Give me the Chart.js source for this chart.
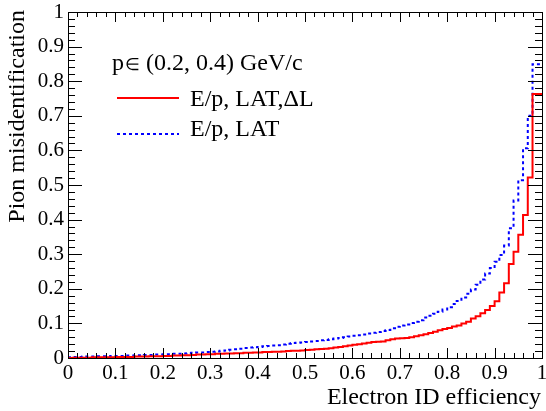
<!DOCTYPE html>
<html>
<head>
<meta charset="utf-8">
<script src="https://cdn.jsdelivr.net/npm/chart.js@4"></script>
<style>
  body { margin: 0; background: #fff; }
  canvas { display: block; }
</style>
</head>
<body>
<canvas id="chart-misid" width="546" height="411"></canvas>
<script>
// 100 bins of width 0.01 in electron efficiency
const nBins = 100;
const xMin = 0, xMax = 1;
const xTickLabels = ['0', '0.1', '0.2', '0.3', '0.4', '0.5', '0.6', '0.7', '0.8', '0.9', '1'];
const yTickLabels = ['0', '0.1', '0.2', '0.3', '0.4', '0.5', '0.6', '0.7', '0.8', '0.9', '1'];
const momentumLabel = ['p', '\u2208', ' (0.2, 0.4) GeV/c'];
const seriesNames = ['E/p, LAT,\u0394L', 'E/p, LAT'];

// pion misidentification per efficiency bin, E/p + LAT + dL
const misidLatDL = [
    0.000, 0.000, 0.001, 0.001, 0.001, 0.001, 0.002, 0.002, 0.002, 0.002,
    0.002, 0.003, 0.003, 0.003, 0.003, 0.004, 0.004, 0.004, 0.005, 0.005,
    0.005, 0.006, 0.006, 0.007, 0.007, 0.008, 0.008, 0.009, 0.010, 0.010,
    0.011, 0.011, 0.012, 0.012, 0.013, 0.013, 0.014, 0.014, 0.015, 0.015,
    0.016, 0.016, 0.017, 0.017, 0.018, 0.018, 0.019, 0.020, 0.021, 0.021,
    0.022, 0.023, 0.024, 0.025, 0.026, 0.027, 0.028, 0.030, 0.032, 0.034,
    0.036, 0.038, 0.040, 0.042, 0.044, 0.046, 0.047, 0.048, 0.051, 0.054,
    0.056, 0.057, 0.058, 0.060, 0.063, 0.066, 0.069, 0.072, 0.076, 0.080,
    0.084, 0.087, 0.091, 0.094, 0.100, 0.105, 0.114, 0.121, 0.129, 0.139,
    0.150, 0.164, 0.189, 0.216, 0.272, 0.307, 0.356, 0.413, 0.522, 0.763,
];

// E/p + LAT only
const misidLat = [
    0.002, 0.002, 0.003, 0.003, 0.004, 0.004, 0.004, 0.005, 0.005, 0.005,
    0.006, 0.006, 0.006, 0.007, 0.007, 0.008, 0.008, 0.009, 0.009, 0.010,
    0.010, 0.011, 0.011, 0.012, 0.012, 0.013, 0.014, 0.015, 0.016, 0.016,
    0.017, 0.018, 0.019, 0.021, 0.022, 0.024, 0.025, 0.027, 0.029, 0.030,
    0.031, 0.032, 0.034, 0.035, 0.036, 0.037, 0.039, 0.041, 0.043, 0.044,
    0.045, 0.046, 0.048, 0.049, 0.051, 0.052, 0.054, 0.056, 0.058, 0.060,
    0.062, 0.064, 0.066, 0.068, 0.071, 0.073, 0.075, 0.078, 0.081, 0.086,
    0.090, 0.094, 0.097, 0.101, 0.105, 0.109, 0.117, 0.122, 0.128, 0.134,
    0.140, 0.147, 0.156, 0.165, 0.175, 0.186, 0.198, 0.212, 0.227, 0.244,
    0.260, 0.278, 0.298, 0.325, 0.375, 0.455, 0.514, 0.606, 0.700, 0.849,
];

const FONT = "'Liberation Serif', 'Times New Roman', serif";
Chart.defaults.font.family = FONT;
Chart.defaults.color = '#000';

function toSteps(values) {
    const w = (xMax - xMin) / nBins;
    const pts = values.map((v, i) => ({ x: xMin + i * w, y: v }));
    pts.push({ x: xMax, y: values[values.length - 1] });
    return pts;
}

// ROOT-like frame: inside ticks on all four sides, legend and axis titles
const rootFrame = {
    id: 'rootFrame',
    afterDraw(chart) {
        const { ctx, chartArea: a, scales: { x, y } } = chart;
        ctx.save();
        ctx.strokeStyle = '#000';
        ctx.lineWidth = 1;
        ctx.strokeRect(Math.round(a.left) + 0.5, Math.round(a.top) + 0.5,
            Math.round(a.right - a.left), Math.round(a.bottom - a.top));
        ctx.beginPath();
        for (let k = 0; k <= 50; k++) {
            const major = k % 5 === 0;
            const px = Math.round(x.getPixelForValue(k * 0.02)) + 0.5;
            const lx = major ? 10 : 5;
            ctx.moveTo(px, a.bottom); ctx.lineTo(px, a.bottom - lx);
            ctx.moveTo(px, a.top); ctx.lineTo(px, a.top + lx);
            const py = Math.round(y.getPixelForValue(k * 0.02)) + 0.5;
            const ly = major ? 14 : 7;
            ctx.moveTo(a.left, py); ctx.lineTo(a.left + ly, py);
            ctx.moveTo(a.right, py); ctx.lineTo(a.right - ly, py);
        }
        ctx.stroke();

        ctx.fillStyle = '#000';
        ctx.textBaseline = 'middle';
        ctx.textAlign = 'left';
        // momentum range; the set symbol is drawn a bit smaller, as in ROOT's TLatex
        let tx = 112;
        ctx.font = '24px ' + FONT;
        ctx.fillText(momentumLabel[0], tx, 64);
        tx += ctx.measureText(momentumLabel[0]).width + 1;
        ctx.font = '17px ' + FONT;
        ctx.fillText(momentumLabel[1], tx, 66);
        tx += ctx.measureText(momentumLabel[1]).width;
        ctx.font = '24px ' + FONT;
        ctx.fillText(momentumLabel[2], tx, 64);

        ctx.fillText(seriesNames[0], 190, 100);
        ctx.fillText(seriesNames[1], 190, 130);

        ctx.lineWidth = 2;
        ctx.strokeStyle = '#ff0000';
        ctx.beginPath(); ctx.moveTo(117, 98); ctx.lineTo(179, 98); ctx.stroke();
        ctx.strokeStyle = '#0000ff';
        ctx.setLineDash([3, 3]);
        ctx.beginPath(); ctx.moveTo(117, 134); ctx.lineTo(179, 134); ctx.stroke();
        ctx.setLineDash([]);

        ctx.textAlign = 'right';
        ctx.fillText('Electron ID efficiency', 541, 398);
        ctx.translate(18, 10);
        ctx.rotate(-Math.PI / 2);
        ctx.fillText('Pion misidentification', 0, 0);
        ctx.restore();
    },
};

new Chart(document.getElementById('chart-misid'), {
    type: 'line',
    data: {
        datasets: [
            {
                label: seriesNames[0],
                data: toSteps(misidLatDL),
                borderColor: '#ff0000',
                borderWidth: 2,
                stepped: 'after',
                pointRadius: 0,
                fill: false,
            },
            {
                label: seriesNames[1],
                data: toSteps(misidLat),
                borderColor: '#0000ff',
                borderWidth: 2,
                borderDash: [3, 3],
                stepped: 'after',
                pointRadius: 0,
                fill: false,
            },
        ],
    },
    options: {
        responsive: false,
        animation: false,
        devicePixelRatio: 1,
        layout: { padding: { top: 12, right: 4, left: 0, bottom: 0 } },
        plugins: {
            legend: { display: false },
            tooltip: { enabled: false },
        },
        scales: {
            x: {
                type: 'linear',
                min: xMin,
                max: xMax,
                grid: { display: false, drawTicks: false },
                border: { display: false },
                ticks: {
                    stepSize: 0.1,
                    maxRotation: 0,
                    padding: 3,
                    color: '#000',
                    font: { family: FONT, size: 21 },
                    callback: (v, i) => xTickLabels[i],
                },
                afterFit: s => {
                    s.height = 53;
                    s.paddingLeft = 0; s.paddingRight = 0;
                },
            },
            y: {
                min: 0,
                max: 1,
                grid: { display: false, drawTicks: false },
                border: { display: false },
                ticks: {
                    stepSize: 0.1,
                    padding: 4,
                    color: '#000',
                    font: { family: FONT, size: 21 },
                    callback: (v, i) => yTickLabels[i],
                },
                afterFit: s => {
                    s.width = 68;
                    s.paddingTop = 0; s.paddingBottom = 0;
                },
            },
        },
    },
    plugins: [rootFrame],
});
</script>
</body>
</html>
